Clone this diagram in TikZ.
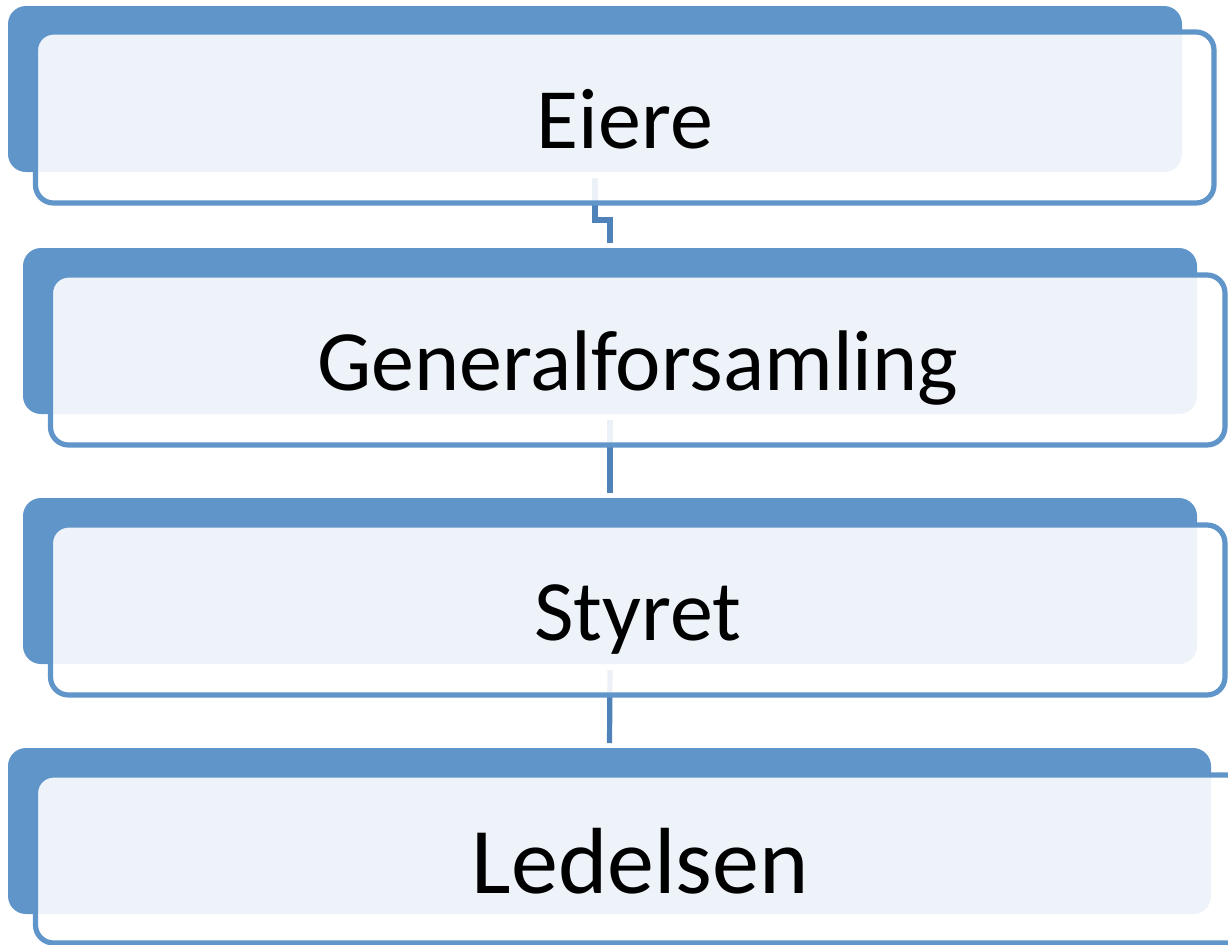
\documentclass[tikz,border=0pt]{standalone}
\usepackage{fontspec}
\setmainfont{Carlito}
\usetikzlibrary{calc}

\definecolor{boxblue}{HTML}{6095C9}
\definecolor{linkblue}{HTML}{5082BA}

\begin{document}
\begin{tikzpicture}[x=0.5pt,y=-0.5pt,
    back box/.style={rectangle,rounded corners=9pt,fill=boxblue,inner sep=0pt,outer sep=0pt},
    front box/.style={rectangle,rounded corners=9pt,draw=boxblue,line width=2.6pt,fill=white,fill opacity=0.89,text opacity=1,inner sep=0pt,outer sep=0pt,text height=30.5pt,text depth=0pt,font=\fontsize{43}{50}\selectfont},
    link/.style={draw=linkblue,line width=2.6pt,shorten <=3pt,shorten >=2.5pt}]

        \useasboundingbox (0,0) rectangle (1228,944);
        \clip (0,0) rectangle (1228,944);

        % back plates
        \node[back box,minimum width=587pt,minimum height=83pt] (back1) at (595,89) {};
        \node[back box,minimum width=587pt,minimum height=83pt] (back2) at (610,331) {};
        \node[back box,minimum width=587pt,minimum height=83pt] (back3) at (610,581) {};
        \node[back box,minimum width=601.5pt,minimum height=83pt] (back4) at (609.5,831) {};

        % connectors
        \draw[link] (back1.south) -- ++(0,48) -| (back2.north);
        \draw[link] (back2.south) -- (back3.north);
        \draw[link] (back3.south) -- (back4.north);

        % front boxes
        \node[front box,minimum width=589.25pt,minimum height=85.5pt] (eiere) at (624.75,117.5) {Eiere};
        \node[front box,minimum width=587.25pt,minimum height=85pt] (gf) at (637.75,360) {Generalforsamling};
        \node[front box,minimum width=587.25pt,minimum height=85pt] (styret) at (637.75,610) {Styret};
        \node[front box,minimum width=604.75pt,minimum height=84pt,text height=34pt,font=\fontsize{47}{54}\selectfont] (ledelsen) at (640.25,859) {Ledelsen};
    \end{tikzpicture}
\end{document}
